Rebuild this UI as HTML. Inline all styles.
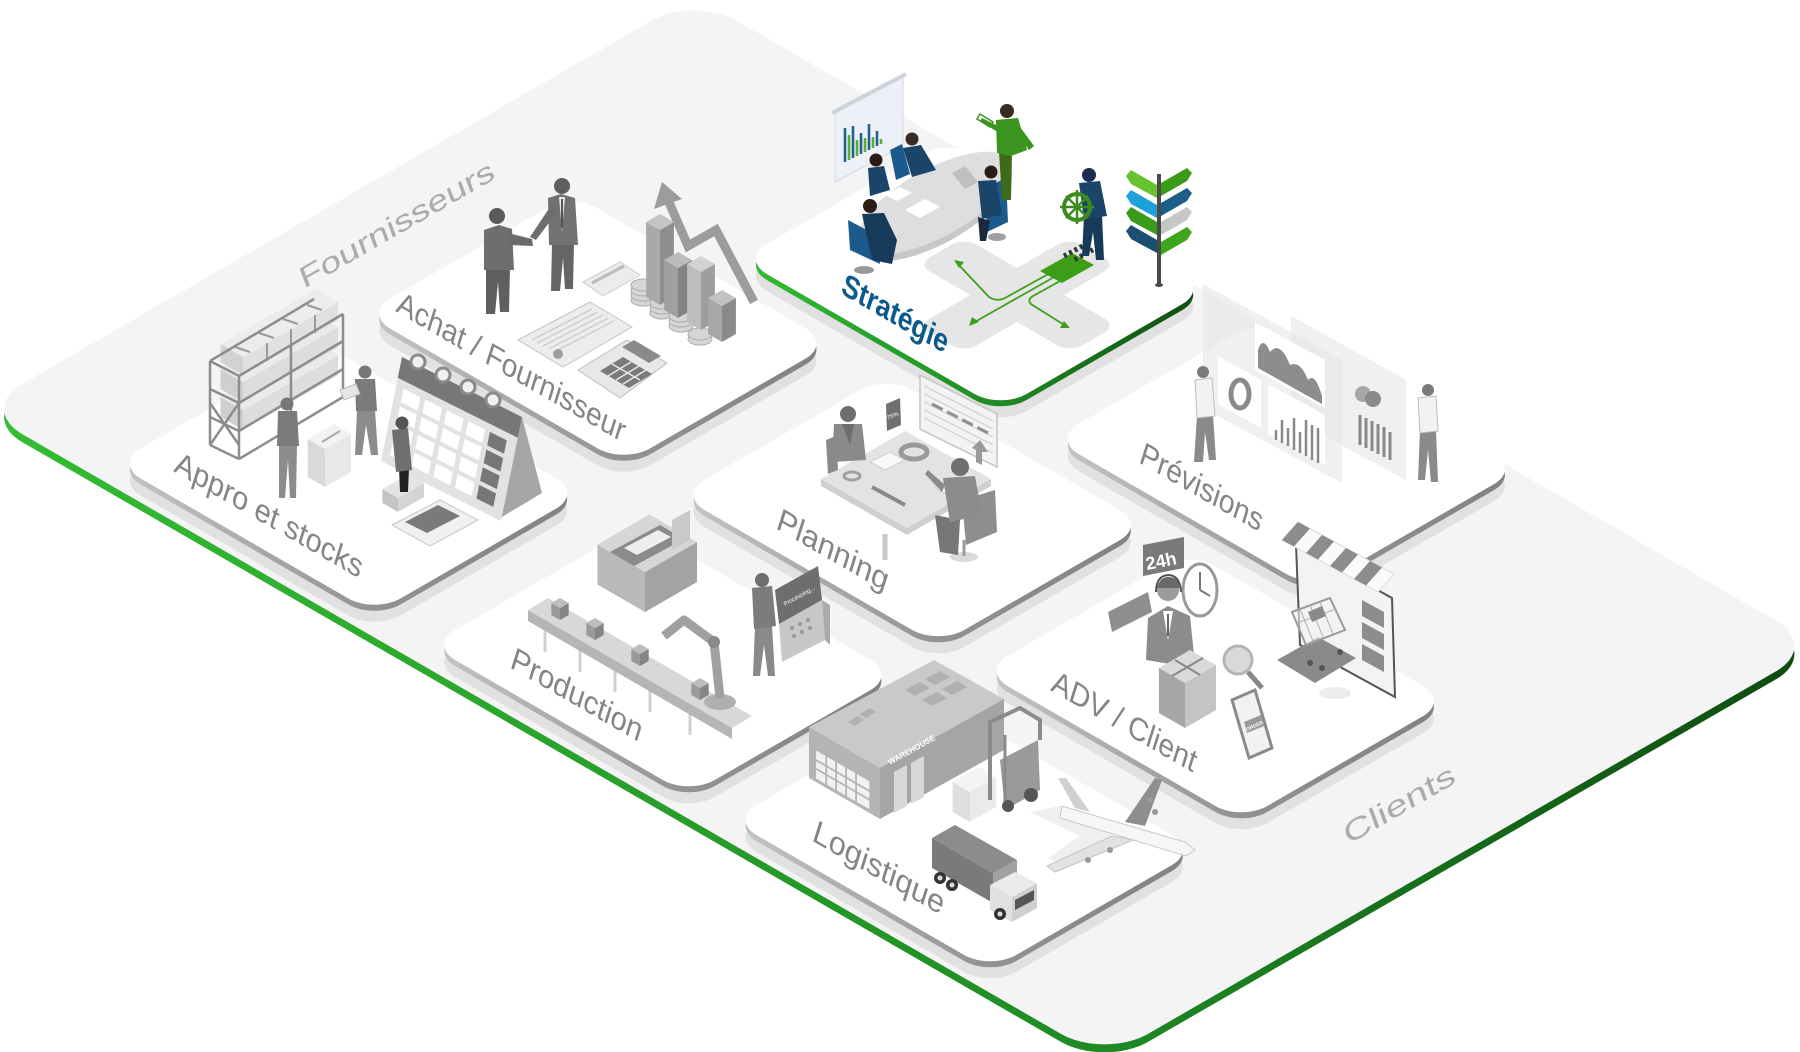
<!DOCTYPE html>
<html lang="fr"><head><meta charset="utf-8"><title>Supply chain</title>
<style>
html,body{margin:0;padding:0;background:#fff;width:1800px;height:1052px;overflow:hidden}
svg{display:block}
text{font-family:"Liberation Sans",sans-serif}
</style></head><body>
<svg width="1800" height="1052" viewBox="0 0 1800 1052" xmlns="http://www.w3.org/2000/svg">
<defs>
<linearGradient id="gP" x1="0" y1="1" x2="1" y2="0">
<stop offset="0" stop-color="#34bd34"/><stop offset="0.5" stop-color="#1f8a24"/><stop offset="1" stop-color="#0e4a10"/>
</linearGradient>
<linearGradient id="gE" x1="0" y1="1" x2="1" y2="0">
<stop offset="0" stop-color="#c6c6c6"/><stop offset="0.5" stop-color="#929292"/><stop offset="1" stop-color="#818181"/>
</linearGradient>
<rect id="T" width="300" height="240" rx="30"/>
</defs>

<!-- big platform -->
<g transform="matrix(0.866,0.5,-0.866,0.5,694,-4)">
<rect x="8" y="8" width="1300" height="826" rx="50" fill="url(#gP)"/>
<rect x="0" y="0" width="1300" height="826" rx="50" fill="#f4f4f4"/>
</g>
<text transform="matrix(0.866,-0.5,0.35,0.937,304,289)" font-size="29" fill="#ababab" textLength="222" lengthAdjust="spacingAndGlyphs">Fournisseurs</text>
<text transform="matrix(0.866,-0.5,0.35,0.937,1348,845)" font-size="29" fill="#ababab" textLength="126" lengthAdjust="spacingAndGlyphs">Clients</text>

<!-- ================= STRATEGIE ================= -->
<g transform="matrix(0.866,0.5,-0.866,0.5,694,-4)">
<use href="#T" x="307" y="13" fill="#e1e1e1"/>
<use href="#T" x="296" y="2" fill="url(#gP)"/>
<use href="#T" x="290" y="-4" fill="#fff"/>
</g>
<g transform="matrix(0.866,0.5,-0.866,0.5,1017,295)" fill="#e6e6e6">
<rect x="-88" y="-27" width="176" height="54" rx="14"/>
<rect x="-27" y="-88" width="54" height="176" rx="14"/>
</g>
<g stroke="#3f9f1c" stroke-width="1.8" fill="none">
<path d="M1052,272 L1005,298 Q997,302 989,297 L957,263"/>
<path d="M1056,276 L973,323"/>
<path d="M1062,280 L1033,296 Q1025,301 1034,306 L1066,326"/>
</g>
<g fill="#3f9f1c">
<polygon points="954,260 964,262 959,268"/>
<polygon points="969,326 972,317 979,322"/>
<polygon points="1070,328 1060,328 1064,321"/>
</g>
<polygon points="1040,271 1072,253 1094,265 1062,283" fill="#3c9d16"/>
<line x1="1064" y1="256" x2="1090" y2="242" stroke="#333" stroke-width="5" stroke-dasharray="3 3"/>
<line x1="1072" y1="261" x2="1098" y2="247" stroke="#333" stroke-width="5" stroke-dasharray="3 3" stroke-dashoffset="3"/>
<polygon points="835,113 903,77 903,146 835,182" fill="#eef0f8" stroke="#d6d9e6"/>
<line x1="832" y1="113" x2="906" y2="74" stroke="#cfd2dc" stroke-width="4"/>
<g stroke-width="2.6">
<line x1="845" y1="162" x2="845" y2="128" stroke="#1f6390"/>
<line x1="849" y1="160" x2="849" y2="135" stroke="#5aae2e"/>
<line x1="853" y1="158" x2="853" y2="126" stroke="#1f6390"/>
<line x1="857" y1="156" x2="857" y2="140" stroke="#5aae2e"/>
<line x1="861" y1="154" x2="861" y2="133" stroke="#1f6390"/>
<line x1="865" y1="152" x2="865" y2="138" stroke="#5aae2e"/>
<line x1="869" y1="150" x2="869" y2="124" stroke="#1f6390"/>
<line x1="873" y1="148" x2="873" y2="137" stroke="#5aae2e"/>
<line x1="877" y1="146" x2="877" y2="131" stroke="#1f6390"/>
<line x1="881" y1="144" x2="881" y2="139" stroke="#5aae2e"/>
</g>
<ellipse cx="935" cy="210" rx="86" ry="34" transform="rotate(-29 935 210)" fill="#c8c8c8"/>
<ellipse cx="935" cy="203" rx="86" ry="34" transform="rotate(-29 935 203)" fill="#dedede"/>
<polygon points="905,210 925,199 940,207 920,218" fill="#fff"/>
<polygon points="885,195 900,187 912,193 897,201" fill="#fff"/>
<polygon points="868,168 884,166 890,190 870,196" fill="#1b4568"/>
<circle cx="876" cy="160" r="6.5" fill="#2b1d16"/>
<polygon points="890,150 902,144 910,174 896,180" fill="#1d5a8c"/>
<polygon points="903,148 921,145 936,170 912,177" fill="#1b4568"/>
<circle cx="912" cy="139" r="6.5" fill="#3b2a20"/>
<polygon points="848,220 878,236 880,264 850,250" fill="#1d5a8c"/>
<polygon points="862,214 884,213 897,240 892,264 872,260" fill="#17395a"/>
<circle cx="870" cy="206" r="7" fill="#2b1d16"/>
<ellipse cx="864" cy="270" rx="10" ry="4" fill="#9a9a9a"/>
<polygon points="952,173 965,166 978,182 965,189" fill="#bfbfbf"/>
<polygon points="985,188 1006,178 1008,222 987,232" fill="#1d5a8c"/>
<polygon points="978,181 996,180 1002,215 982,219" fill="#1b4568"/>
<circle cx="991" cy="172" r="6.5" fill="#2b1d16"/>
<polygon points="978,217 990,221 986,241 980,241" fill="#1a2a3a"/>
<ellipse cx="997" cy="237" rx="9" ry="4" fill="#a0a0a0"/>
<polygon points="999,152 1012,152 1011,200 1002,200" fill="#3d6b1a"/>
<polygon points="996,120 1018,118 1027,150 1011,156 997,153" fill="#3b941f"/>
<polygon points="1018,124 1034,146 1029,150 1016,132" fill="#3b941f"/>
<polygon points="998,126 982,118 980,121 996,131" fill="#3b941f"/>
<polygon points="980,114 993,122 990,127 977,119" fill="none" stroke="#3b941f" stroke-width="1.5"/>
<circle cx="1007" cy="111" r="7" fill="#3b2a20"/>
<polygon points="1084,215 1102,215 1104,260 1096,260 1093,232 1089,256 1082,256" fill="#17395a"/>
<polygon points="1079,183 1100,181 1107,216 1084,219" fill="#1b4568"/>
<circle cx="1089" cy="175" r="7" fill="#1b2d50"/>
<circle cx="1077" cy="207" r="13" fill="none" stroke="#3b8c1c" stroke-width="4"/>
<g stroke="#3b8c1c" stroke-width="2.5"><line x1="1077" y1="190" x2="1077" y2="224"/><line x1="1060" y1="207" x2="1094" y2="207"/><line x1="1066" y1="196" x2="1088" y2="218"/><line x1="1088" y1="196" x2="1066" y2="218"/></g>
<polygon points="1157,185 1157,198 1131,184 1126,176 1131,170" fill="#66c22e"/>
<polygon points="1157,205 1157,218 1131,204 1126,196 1131,190" fill="#1ea0d8"/>
<polygon points="1157,222 1157,235 1131,221 1126,213 1131,207" fill="#3a9a1a"/>
<polygon points="1157,240 1157,253 1131,239 1126,231 1131,225" fill="#1b4f72"/>
<polygon points="1161,183 1161,196 1187,181 1192,173 1187,168" fill="#3a9a1a"/>
<polygon points="1161,203 1161,216 1187,201 1192,193 1187,188" fill="#1d5d86"/>
<polygon points="1161,222 1161,235 1187,220 1192,212 1187,207" fill="#c6c6c6"/>
<polygon points="1161,242 1161,255 1187,240 1192,232 1187,227" fill="#3ea51c"/>
<line x1="1159" y1="174" x2="1159" y2="284" stroke="#4a4a4a" stroke-width="4"/>
<ellipse cx="1159" cy="285" rx="4" ry="2" fill="#4a4a4a"/>
<text transform="matrix(0.866,0.5,-0.3,0.954,840,293)" font-size="31" font-weight="bold" fill="#0c5a8d" textLength="121" lengthAdjust="spacingAndGlyphs">Stratégie</text>

<!-- ================= ACHAT ================= -->
<g transform="matrix(0.866,0.5,-0.866,0.5,694,-4)">
<use href="#T" x="144" y="285" fill="#e1e1e1"/>
<use href="#T" x="133" y="274" fill="url(#gE)"/>
<use href="#T" x="127" y="268" fill="#fff"/>
</g>
<polygon points="518,340 590,302 632,327 563,367" fill="#ededed" stroke="#c4c4c4"/>
<g stroke="#cdcdcd" stroke-width="1.5">
<line x1="532" y1="340" x2="592" y2="309"/><line x1="537.5" y1="343" x2="597.5" y2="312"/>
<line x1="543" y1="346" x2="603" y2="315"/><line x1="548.5" y1="349" x2="608.5" y2="318"/>
<line x1="554" y1="352" x2="614" y2="321"/>
</g>
<circle cx="558" cy="354" r="5" fill="#9e9e9e"/>
<polygon points="583,282 620,262 640,275 603,296" fill="#ececec" stroke="#cfcfcf"/>
<line x1="592" y1="283" x2="624" y2="266" stroke="#bbb" stroke-width="3"/>
<polygon points="578,370 627,340 667,363 620,398" fill="#e8e8e8" stroke="#bdbdbd"/>
<polygon points="622,347 634,340 661,356 649,363" fill="#8a8a8a"/>
<polygon points="600,371 623,357 652,374 629,388" fill="#7a7a7a"/>
<g stroke="#e8e8e8" stroke-width="1.5"><line x1="608" y1="376" x2="631" y2="362"/><line x1="616" y1="380" x2="639" y2="366"/><line x1="623" y1="384" x2="646" y2="370"/><line x1="612" y1="364" x2="640" y2="380"/></g>
<g fill="#d6d6d6" stroke="#adadad" stroke-width="1">
<ellipse cx="643" cy="300" rx="12" ry="6"/><ellipse cx="643" cy="295" rx="12" ry="6"/><ellipse cx="643" cy="290" rx="12" ry="6"/><ellipse cx="643" cy="285" rx="12" ry="6"/>
<ellipse cx="662" cy="313" rx="12" ry="6"/><ellipse cx="662" cy="308" rx="12" ry="6"/><ellipse cx="662" cy="303" rx="12" ry="6"/>
<ellipse cx="681" cy="326" rx="12" ry="6"/><ellipse cx="681" cy="321" rx="12" ry="6"/><ellipse cx="681" cy="316" rx="12" ry="6"/>
<ellipse cx="700" cy="339" rx="12" ry="6"/><ellipse cx="700" cy="334" rx="12" ry="6"/>
</g>
<polyline points="668,200 688,246 716,230 754,302" fill="none" stroke="#9c9c9c" stroke-width="9"/>
<polygon points="662,182 654,209 682,199" fill="#9c9c9c"/>
<polygon points="660,305 646.1,297 646.1,222 660,230" fill="#a9a9a9"/>
<polygon points="660,305 673.9,297 673.9,222 660,230" fill="#8e8e8e"/>
<polygon points="660,230 646.1,222 660,214 673.9,222" fill="#c4c4c4"/>
<polygon points="678,318 664.1,310 664.1,260 678,268" fill="#a0a0a0"/>
<polygon points="678,318 691.9,310 691.9,260 678,268" fill="#848484"/>
<polygon points="678,268 664.1,260 678,252 691.9,260" fill="#bcbcbc"/>
<polygon points="701,330 687.1,322 687.1,264 701,272" fill="#bdbdbd"/>
<polygon points="701,330 714.9,322 714.9,264 701,272" fill="#9d9d9d"/>
<polygon points="701,272 687.1,264 701,256 714.9,264" fill="#d2d2d2"/>
<polygon points="722,342 708.1,334 708.1,298 722,306" fill="#a8a8a8"/>
<polygon points="722,342 735.9,334 735.9,298 722,306" fill="#8a8a8a"/>
<polygon points="722,306 708.1,298 722,290 735.9,298" fill="#c2c2c2"/>
<polygon points="486,268 510,268 509,312 500,312 498,282 495,314 486,314" fill="#5f5f5f"/>
<polygon points="484,230 499,225 512,229 514,270 484,270" fill="#6e6e6e"/>
<polygon points="508,233 532,239 533,246 509,245" fill="#6a6a6a"/>
<circle cx="497" cy="216" r="8" fill="#5a5a5a"/>
<polygon points="552,243 574,243 573,289 565,289 563,258 560,291 551,291" fill="#656565"/>
<polygon points="548,198 561,194 575,198 578,245 549,245" fill="#727272"/>
<polygon points="559,197 565,197 562,232" fill="#e8e8e8"/>
<line x1="562" y1="199" x2="562" y2="228" stroke="#555" stroke-width="2"/>
<polygon points="552,204 530,237 536,240 557,212" fill="#6e6e6e"/>
<circle cx="562" cy="186" r="8" fill="#5e5e5e"/>
<text transform="matrix(0.866,0.5,-0.3,0.954,395,311)" font-size="31" fill="#858585" textLength="262" lengthAdjust="spacingAndGlyphs">Achat / Fournisseur</text>

<!-- ================= PREVISIONS ================= -->
<g transform="matrix(0.866,0.5,-0.866,0.5,694,-4)">
<use href="#T" x="667" y="13" fill="#e1e1e1"/>
<use href="#T" x="656" y="2" fill="url(#gE)"/>
<use href="#T" x="650" y="-4" fill="#fff"/>
</g>
<polygon points="1203,284 1342,360 1342,483 1203,408" fill="#e4e4e4" opacity="0.55"/>
<polygon points="1291,316 1406,380 1406,480 1291,418" fill="#e6e6e6" opacity="0.6"/>
<polygon points="1218,356 1261,380 1261,428 1218,404" fill="#fff"/>
<ellipse cx="1240" cy="394" rx="9" ry="14" fill="none" stroke="#8a8a8a" stroke-width="5"/>
<polygon points="1255,322 1325,360 1325,408 1255,370" fill="#fff"/>
<path d="M1258,350 Q1263,335 1270,352 Q1280,340 1290,365 Q1300,360 1308,380 Q1315,372 1322,396 L1322,404 L1258,368 Z" fill="#8d8d8d"/>
<polygon points="1268,384 1325,415 1325,465 1268,434" fill="#fff"/>
<g stroke="#8a8a8a" stroke-width="2.5">
<line x1="1276" y1="440" x2="1276" y2="430"/><line x1="1282" y1="443" x2="1282" y2="420"/><line x1="1288" y1="446" x2="1288" y2="428"/><line x1="1294" y1="450" x2="1294" y2="418"/><line x1="1300" y1="453" x2="1300" y2="432"/><line x1="1306" y1="456" x2="1306" y2="420"/><line x1="1312" y1="460" x2="1312" y2="425"/><line x1="1318" y1="463" x2="1318" y2="428"/>
</g>
<circle cx="1363" cy="394" r="8" fill="#a6a6a6"/><circle cx="1373" cy="399" r="8" fill="#8a8a8a"/>
<g stroke="#888" stroke-width="3">
<line x1="1360" y1="445" x2="1360" y2="415"/><line x1="1366" y1="448" x2="1366" y2="418"/><line x1="1372" y1="451" x2="1372" y2="421"/><line x1="1378" y1="454" x2="1378" y2="424"/><line x1="1384" y1="457" x2="1384" y2="427"/><line x1="1390" y1="460" x2="1390" y2="432"/>
</g>
<polygon points="1197,415 1213,415 1216,460 1209,460 1205,432 1203,462 1194,462" fill="#8a8a8a"/>
<polygon points="1195,380 1212,378 1215,416 1197,418" fill="#f2f2f2" stroke="#bdbdbd"/>
<circle cx="1203" cy="372" r="6" fill="#7a7a7a"/>
<polygon points="1420,430 1436,430 1438,482 1431,482 1428,450 1425,480 1418,480" fill="#8a8a8a"/>
<polygon points="1418,398 1436,396 1438,431 1420,433" fill="#f2f2f2" stroke="#bdbdbd"/>
<circle cx="1428" cy="390" r="6" fill="#7a7a7a"/>
<text transform="matrix(0.866,0.5,-0.3,0.954,1138,462)" font-size="31" fill="#858585" textLength="140" lengthAdjust="spacingAndGlyphs">Prévisions</text>

<!-- ================= APPRO ================= -->
<g transform="matrix(0.866,0.5,-0.866,0.5,694,-4)">
<use href="#T" x="150" y="579" fill="#e1e1e1"/>
<use href="#T" x="139" y="568" fill="url(#gE)"/>
<use href="#T" x="133" y="562" fill="#fff"/>
</g>
<polygon points="243,430 220.5,417 220.5,397 243,410" fill="#cfcfcf"/>
<polygon points="243,430 338.3,375 338.3,355 243,410" fill="#dddddd"/>
<polygon points="243,410 220.5,397 315.8,342 338.3,355" fill="#eaeaea"/>
<polygon points="243,402 220.5,389 220.5,369 243,382" fill="#cfcfcf"/>
<polygon points="243,402 338.3,347 338.3,327 243,382" fill="#dddddd"/>
<polygon points="243,382 220.5,369 315.8,314 338.3,327" fill="#eaeaea"/>
<polygon points="243,375 220.5,362 220.5,344 243,357" fill="#d2d2d2"/>
<polygon points="243,375 338.3,320 338.3,302 243,357" fill="#e0e0e0"/>
<polygon points="243,357 220.5,344 315.8,289 338.3,302" fill="#ececec"/>
<g stroke="#9a9a9a" stroke-width="2"><line x1="267" y1="361" x2="267" y2="343"/><line x1="291" y1="347" x2="291" y2="329"/><line x1="315" y1="333" x2="315" y2="315"/>
<line x1="235" y1="347" x2="250" y2="352"/><line x1="259" y1="333" x2="274" y2="338"/><line x1="283" y1="319" x2="298" y2="324"/><line x1="307" y1="305" x2="322" y2="310"/></g>
<g stroke="#8d8d8d" stroke-width="2.5" fill="none">
<line x1="210" y1="361" x2="210" y2="445"/><line x1="239" y1="376" x2="239" y2="459"/><line x1="291" y1="345" x2="291" y2="428"/><line x1="343" y1="314" x2="343" y2="397"/>
<line x1="239" y1="459" x2="343" y2="397"/><line x1="239" y1="431" x2="343" y2="369"/><line x1="239" y1="403" x2="343" y2="341"/><line x1="239" y1="376" x2="343" y2="314"/>
<line x1="210" y1="445" x2="239" y2="459"/><line x1="210" y1="417" x2="239" y2="431"/><line x1="210" y1="389" x2="239" y2="403"/><line x1="210" y1="361" x2="239" y2="376"/>
<line x1="210" y1="361" x2="314" y2="299"/><line x1="210" y1="445" x2="239" y2="403"/><line x1="210" y1="403" x2="239" y2="445"/>
</g>
<polygon points="325,487 307.7,477 307.7,439 325,449" fill="#d9d9d9"/>
<polygon points="325,487 351,472 351,434 325,449" fill="#e8e8e8"/>
<polygon points="325,449 307.7,439 333.7,424 351,434" fill="#f2f2f2"/>
<line x1="322" y1="442" x2="340" y2="431" stroke="#aaa" stroke-width="2"/>
<polygon points="279,445 297,445 296,498 290,498 288,460 285,498 279,498" fill="#8c8c8c"/>
<polygon points="278,411 297,411 299,446 277,446" fill="#7b7b7b"/>
<circle cx="287" cy="404" r="6.5" fill="#777"/>
<polygon points="357,410 375,410 378,455 371,455 366,425 362,455 355,455" fill="#8c8c8c"/>
<polygon points="355,379 375,379 377,411 356,411" fill="#7b7b7b"/>
<circle cx="365" cy="372" r="6.5" fill="#777"/>
<polygon points="340,390 356,384 360,394 344,400" fill="#e6e6e6" stroke="#bbb"/>
<polygon points="522,417 542,493 497,520" fill="#a6a6a6"/>
<g transform="matrix(120,60,-21,104,402,357)">
<rect width="1" height="1" fill="#e2e2e2"/>
<rect width="1" height="0.2" fill="#777"/>
<g fill="#fff">
<rect x="0.06" y="0.27" width="0.14" height="0.13"/><rect x="0.24" y="0.27" width="0.14" height="0.13"/><rect x="0.42" y="0.27" width="0.14" height="0.13"/><rect x="0.60" y="0.27" width="0.14" height="0.13"/>
<rect x="0.06" y="0.44" width="0.14" height="0.13"/><rect x="0.24" y="0.44" width="0.14" height="0.13"/><rect x="0.42" y="0.44" width="0.14" height="0.13"/><rect x="0.60" y="0.44" width="0.14" height="0.13"/>
<rect x="0.06" y="0.61" width="0.14" height="0.13"/><rect x="0.24" y="0.61" width="0.14" height="0.13"/><rect x="0.42" y="0.61" width="0.14" height="0.13"/><rect x="0.60" y="0.61" width="0.14" height="0.13"/>
<rect x="0.06" y="0.78" width="0.14" height="0.13"/><rect x="0.24" y="0.78" width="0.14" height="0.13"/><rect x="0.42" y="0.78" width="0.14" height="0.13"/><rect x="0.60" y="0.78" width="0.14" height="0.13"/>
</g>
<g fill="#777">
<rect x="0.78" y="0.27" width="0.14" height="0.13"/><rect x="0.78" y="0.44" width="0.14" height="0.13"/><rect x="0.78" y="0.61" width="0.14" height="0.13"/><rect x="0.78" y="0.78" width="0.14" height="0.13"/>
</g>
</g>
<g fill="#f0f0f0" stroke="#8a8a8a" stroke-width="3">
<circle cx="418" cy="362" r="7"/><circle cx="443" cy="375" r="7"/><circle cx="468" cy="387" r="7"/><circle cx="493" cy="400" r="7"/>
</g>
<polygon points="398,512 382.4,503 382.4,489 398,498" fill="#c4c4c4"/>
<polygon points="398,512 424,497 424,483 398,498" fill="#d4d4d4"/>
<polygon points="398,498 382.4,489 408.4,474 424,483" fill="#e4e4e4"/>
<polygon points="399,468 409,468 408,492 400,492" fill="#222"/>
<polygon points="392,430 408,428 412,470 396,472" fill="#6f6f6f"/>
<circle cx="402" cy="423" r="6.5" fill="#555"/>
<polygon points="392,525 440,500 478,520 430,546" fill="#f0f0f0" stroke="#c8c8c8"/>
<polygon points="405,522 438,505 460,516 427,533" fill="#7a7a7a"/>
<text transform="matrix(0.866,0.5,-0.3,0.954,173,471)" font-size="31" fill="#858585" textLength="215" lengthAdjust="spacingAndGlyphs">Appro et stocks</text>

<!-- ================= PLANNING ================= -->
<g transform="matrix(0.866,0.5,-0.866,0.5,694,-4)">
<use href="#T" x="507" y="285" fill="#e1e1e1"/>
<use href="#T" x="496" y="274" fill="url(#gE)"/>
<use href="#T" x="490" y="268" fill="#fff"/>
</g>
<polygon points="920,375 997,414 997,467 920,429" fill="#f3f3f3" stroke="#c4c4c4" stroke-width="1.5"/>
<g stroke="#d6d6d6" stroke-width="1.5">
<line x1="924" y1="386" x2="993" y2="421"/><line x1="924" y1="394" x2="993" y2="429"/><line x1="924" y1="402" x2="993" y2="437"/><line x1="924" y1="410" x2="993" y2="445"/><line x1="924" y1="418" x2="993" y2="453"/>
</g>
<line x1="932" y1="404" x2="988" y2="433" stroke="#8f8f8f" stroke-width="3" stroke-dasharray="12 5"/>
<polygon points="972,448 980,440 988,452 982,452 982,465 976,462 976,450" fill="#9a9a9a"/>
<polygon points="821,479 907,528 991,479 991,486 907,535 821,486" fill="#cfcfcf"/>
<polygon points="821,479 905,431 991,479 907,528" fill="#e3e3e3"/>
<line x1="885" y1="534" x2="885" y2="560" stroke="#c9c9c9" stroke-width="5"/>
<ellipse cx="914" cy="452" rx="13" ry="7" fill="none" stroke="#9a9a9a" stroke-width="5"/>
<ellipse cx="852" cy="476" rx="8" ry="4" fill="none" stroke="#a0a0a0" stroke-width="3"/>
<polygon points="870,462 890,452 905,460 885,470" fill="#f8f8f8" stroke="#ccc"/>
<line x1="872" y1="487" x2="905" y2="505" stroke="#8a8a8a" stroke-width="4"/>
<polygon points="935,488 955,478 968,485 948,495" fill="#f8f8f8" stroke="#ccc"/>
<polygon points="826,440 836,436 838,470 828,474" fill="#8a8a8a"/>
<polygon points="834,424 862,424 866,460 832,462" fill="#8a8a8a"/>
<polygon points="842,424 854,424 850,445" fill="#6e6e6e"/>
<circle cx="848" cy="414" r="8" fill="#6e6e6e"/>
<polygon points="886,404 900,398 901,425 887,431" fill="#6f6f6f"/>
<text transform="translate(888,420) rotate(-24)" font-size="6" fill="#fff">75%</text>
<polygon points="962,500 995,490 997,532 966,545" fill="#8e8e8e"/>
<ellipse cx="964" cy="557" rx="14" ry="5" fill="#d9d9d9"/>
<line x1="964" y1="540" x2="964" y2="556" stroke="#9a9a9a" stroke-width="3"/>
<polygon points="935,515 960,520 958,555 940,552" fill="#777"/>
<polygon points="943,478 975,476 982,515 950,522" fill="#8c8c8c"/>
<polygon points="945,485 928,470 925,474 942,492" fill="#8c8c8c"/>
<circle cx="960" cy="467" r="9" fill="#707070"/>
<text transform="matrix(0.866,0.5,-0.3,0.954,775,528)" font-size="31" fill="#858585" textLength="127" lengthAdjust="spacingAndGlyphs">Planning</text>

<!-- ================= PRODUCTION ================= -->
<g transform="matrix(0.866,0.5,-0.866,0.5,694,-4)">
<use href="#T" x="513" y="579" fill="#e1e1e1"/>
<use href="#T" x="502" y="568" fill="url(#gE)"/>
<use href="#T" x="496" y="562" fill="#fff"/>
</g>
<polygon points="645,612 597.4,584.5 597.4,544.5 645,572" fill="#b9b9b9"/>
<polygon points="645,612 697,582 697,542 645,572" fill="#a3a3a3"/>
<polygon points="645,572 597.4,544.5 649.4,514.5 697,542" fill="#d6d6d6"/>
<polygon points="610,552 660,525 684,539 634,566" fill="#8b8b8b"/>
<polygon points="624,548 658,530 671,537 637,555" fill="#eeeeee"/>
<polygon points="672,520 690,510 690,540 672,550" fill="#c9c9c9"/>
<g stroke="#d0d0d0" stroke-width="3">
<line x1="545" y1="622" x2="545" y2="652"/><line x1="580" y1="642" x2="580" y2="672"/><line x1="615" y1="662" x2="615" y2="692"/><line x1="650" y1="682" x2="650" y2="712"/><line x1="690" y1="705" x2="690" y2="735"/>
</g>
<polygon points="528,610 732,728 732,739 528,621" fill="#b5b5b5"/>
<polygon points="528,610 548,598 752,716 732,728" fill="#d8d8d8"/>
<polygon points="560,620 551.3,615 551.3,603 560,608" fill="#9a9a9a"/><polygon points="560,620 568.7,615 568.7,603 560,608" fill="#858585"/><polygon points="560,608 551.3,603 560,598 568.7,603" fill="#bdbdbd"/>
<polygon points="595,640 586.3,635 586.3,623 595,628" fill="#9a9a9a"/><polygon points="595,640 603.7,635 603.7,623 595,628" fill="#858585"/><polygon points="595,628 586.3,623 595,618 603.7,623" fill="#bdbdbd"/>
<polygon points="640,666 631.3,661 631.3,649 640,654" fill="#9a9a9a"/><polygon points="640,666 648.7,661 648.7,649 640,654" fill="#858585"/><polygon points="640,654 631.3,649 640,644 648.7,649" fill="#bdbdbd"/>
<polygon points="700,700 691.3,695 691.3,683 700,688" fill="#9a9a9a"/><polygon points="700,700 708.7,695 708.7,683 700,688" fill="#858585"/><polygon points="700,688 691.3,683 700,678 708.7,683" fill="#bdbdbd"/>
<ellipse cx="720" cy="702" rx="16" ry="8" fill="#b0b0b0"/>
<polyline points="720,698 714,642 684,620 664,636" fill="none" stroke="#a0a0a0" stroke-width="9" stroke-linejoin="round"/>
<circle cx="714" cy="642" r="6" fill="#8a8a8a"/>
<polygon points="755,626 772,626 775,676 768,676 764,645 760,676 753,676" fill="#8a8a8a"/>
<polygon points="752,588 772,586 776,626 754,629" fill="#7c7c7c"/>
<circle cx="762" cy="580" r="7" fill="#6f6f6f"/>
<polygon points="779,624 822,600 825,640 782,662" fill="#c8c8c8"/>
<polygon points="822,600 830,605 830,645 825,640" fill="#aaaaaa"/>
<polygon points="775,590 818,566 822,600 779,624" fill="#6e6e6e"/>
<text transform="translate(785,606) rotate(-29)" font-size="6" fill="#fff">Processing...</text>
<g fill="#999"><circle cx="792" cy="628" r="2"/><circle cx="800" cy="624" r="2"/><circle cx="808" cy="620" r="2"/><circle cx="794" cy="636" r="2"/><circle cx="802" cy="632" r="2"/><circle cx="810" cy="628" r="2"/></g>
<text transform="matrix(0.866,0.5,-0.3,0.954,509,667)" font-size="31" fill="#858585" textLength="150" lengthAdjust="spacingAndGlyphs">Production</text>

<!-- ================= ADV ================= -->
<g transform="matrix(0.866,0.5,-0.866,0.5,694,-4)">
<use href="#T" x="858" y="286" fill="#e1e1e1"/>
<use href="#T" x="847" y="275" fill="url(#gE)"/>
<use href="#T" x="841" y="269" fill="#fff"/>
</g>
<polygon points="1296,545 1392,598 1395,697 1300,645" fill="#f3f3f3" stroke="#555" stroke-width="2"/>
<g fill="#8d8d8d">
<polygon points="1362,600 1384,612 1384,628 1362,616"/><polygon points="1362,622 1384,634 1384,650 1362,638"/><polygon points="1362,644 1384,656 1384,672 1362,660"/>
</g>
<polygon points="1282,540 1378,592 1394,574 1298,522" fill="#fafafa" stroke="#ddd"/>
<g fill="#8c8c8c">
<polygon points="1282,540 1294,546.5 1310,528.5 1298,522"/>
<polygon points="1306,553 1318,559.5 1334,541.5 1322,535"/>
<polygon points="1330,566 1342,572.5 1358,554.5 1346,548"/>
<polygon points="1354,579 1366,585.5 1382,567.5 1370,561"/>
</g>
<polygon points="1277,660 1318,637 1356,658 1315,683" fill="#8a8a8a"/>
<ellipse cx="1335" cy="693" rx="16" ry="6" fill="#ececec"/>
<polygon points="1292,612 1330,598 1345,630 1306,645" fill="#f4f4f4" fill-opacity="0.6" stroke="#9a9a9a" stroke-width="2"/>
<g stroke="#b0b0b0" stroke-width="1"><line x1="1300" y1="609" x2="1313" y2="641"/><line x1="1310" y1="605" x2="1323" y2="637"/><line x1="1320" y1="602" x2="1333" y2="634"/><line x1="1297" y1="623" x2="1336" y2="609"/></g>
<polygon points="1308,612 1322,606 1326,616 1312,622" fill="#8a8a8a"/>
<g fill="#555"><circle cx="1310" cy="663" r="3"/><circle cx="1340" cy="652" r="3"/><circle cx="1322" cy="668" r="3"/></g>
<polygon points="1143,545 1184,537 1184,568 1143,576" fill="#7a7a7a"/>
<text transform="translate(1147,570) rotate(-11)" font-size="18" font-weight="bold" fill="#fff">24h</text>
<ellipse cx="1200" cy="590" rx="17" ry="26" fill="#fff" stroke="#999" stroke-width="3"/>
<line x1="1200" y1="590" x2="1200" y2="572" stroke="#777" stroke-width="2"/><line x1="1200" y1="590" x2="1210" y2="596" stroke="#777" stroke-width="2"/>
<polygon points="1108,612 1148,592 1152,612 1112,632" fill="#8f8f8f"/>
<polygon points="1146,660 1148,618 1168,606 1190,616 1194,655 1170,664" fill="#8c8c8c"/>
<polygon points="1163,611 1173,611 1168,640" fill="#fff"/>
<line x1="1168" y1="614" x2="1168" y2="636" stroke="#666" stroke-width="2"/>
<circle cx="1168" cy="590" r="11" fill="#9a9a9a"/>
<path d="M1157,588 Q1160,576 1170,577 Q1180,578 1180,588" fill="#6a6a6a"/>
<path d="M1156,592 Q1156,576 1168,575 Q1180,575 1181,592" fill="none" stroke="#555" stroke-width="2"/>
<polygon points="1185,728 1159,713 1159,668 1185,683" fill="#a6a6a6"/>
<polygon points="1185,728 1216,710 1216,665 1185,683" fill="#c4c4c4"/>
<polygon points="1185,683 1159,668 1190,650 1216,665" fill="#dadada"/>
<line x1="1172" y1="676" x2="1203" y2="658" stroke="#888" stroke-width="2"/>
<line x1="1175" y1="660" x2="1200" y2="675" stroke="#888" stroke-width="2"/>
<circle cx="1238" cy="660" r="14" fill="#d9d9d9" stroke="#b5b5b5" stroke-width="3"/>
<line x1="1248" y1="672" x2="1262" y2="688" stroke="#888" stroke-width="5"/>
<polygon points="1232,700 1255,690 1272,748 1249,758" fill="#f2f2f2" stroke="#8a8a8a" stroke-width="3"/>
<polygon points="1244,722 1261,715 1264,726 1247,733" fill="#9a9a9a"/>
<text transform="translate(1247,731) rotate(-24)" font-size="5" font-weight="bold" fill="#fff">ORDER</text>
<text transform="matrix(0.866,0.5,-0.3,0.954,1050,690)" font-size="31" fill="#858585" textLength="165" lengthAdjust="spacingAndGlyphs">ADV / Client</text>

<!-- ================= LOGISTIQUE ================= -->
<g transform="matrix(0.866,0.5,-0.866,0.5,694,-4)">
<use href="#T" x="862" y="580" fill="#e1e1e1"/>
<use href="#T" x="851" y="569" fill="url(#gE)"/>
<use href="#T" x="845" y="563" fill="#fff"/>
</g>
<polygon points="809,727 934,660 1004,699 880,768" fill="#c9c9c9"/>
<polygon points="809,727 880,768 880,819 809,778" fill="#b4b4b4"/>
<polygon points="880,768 1004,699 1004,750 880,819" fill="#a5a5a5"/>
<g fill="#b0b0b0">
<polygon points="905,690 920,682 930,688 915,696"/><polygon points="925,679 940,671 950,677 935,685"/><polygon points="922,700 937,692 947,698 932,706"/><polygon points="942,689 957,681 967,687 952,695"/>
<polygon points="848,722 858,716 864,720 854,726"/><polygon points="860,714 870,708 876,712 866,718"/>
</g>
<g transform="matrix(71,41,0,51,809,727)">
<rect x="0.1" y="0.38" width="0.75" height="0.55" fill="#f2f2f2"/>
<g fill="#b4b4b4">
<rect x="0.23" y="0.38" width="0.025" height="0.55"/><rect x="0.37" y="0.38" width="0.025" height="0.55"/><rect x="0.51" y="0.38" width="0.025" height="0.55"/><rect x="0.65" y="0.38" width="0.025" height="0.55"/>
<rect x="0.1" y="0.55" width="0.75" height="0.04"/><rect x="0.1" y="0.72" width="0.75" height="0.04"/>
</g>
</g>
<polygon points="894,772 907,765 907,806 894,813" fill="#d8d8d8"/>
<polygon points="911,763 924,756 924,797 911,804" fill="#d8d8d8"/>
<text transform="translate(890,765) rotate(-29)" font-size="8" font-weight="bold" fill="#fff">WAREHOUSE</text>
<polygon points="970,822 952.7,812 952.7,782 970,792" fill="#dedede"/>
<polygon points="970,822 996,807 996,777 970,792" fill="#eaeaea"/>
<polygon points="970,792 952.7,782 978.7,767 996,777" fill="#f4f4f4"/>
<polygon points="1000,760 1038,740 1040,790 1005,810" fill="#9a9a9a"/>
<polyline points="990,800 990,722 1020,708 1040,720 1040,740" fill="none" stroke="#8a8a8a" stroke-width="4"/>
<line x1="1005" y1="810" x2="1005" y2="735" stroke="#8a8a8a" stroke-width="3"/>
<circle cx="1031" cy="795" r="7" fill="#555"/><circle cx="1008" cy="806" r="6" fill="#555"/>
<!-- plane -->
<polygon points="1030,812 1060,806 1120,840 1065,866 1048,858 1080,836" fill="#efefef"/>
<polygon points="1058,778 1075,808 1090,812 1066,778" fill="#d0d0d0"/>
<polygon points="1125,822 1155,778 1162,780 1145,826" fill="#8e8e8e"/>
<polygon points="1062,806 1185,842 1195,850 1186,856 1060,818" fill="#f6f6f6" stroke="#c8c8c8"/>
<polygon points="1133,840 1112,836 1047,866 1055,872" fill="#e2e2e2" stroke="#c4c4c4"/>
<g fill="#999"><circle cx="1088" cy="860" r="3"/><circle cx="1110" cy="850" r="3"/><circle cx="1150" cy="800" r="3"/><circle cx="1155" cy="812" r="3"/></g>
<!-- truck -->
<polygon points="932,868 993,903 993,873 932,838" fill="#7a7a7a"/>
<polygon points="993,873 1017,860 1017,890 993,903" fill="#a0a0a0"/>
<polygon points="932,838 955,825 1017,860 993,873" fill="#8c8c8c"/>
<polygon points="990,885 1012,897 1012,922 990,910" fill="#e0e0e0"/>
<polygon points="1012,897 1037,883 1037,908 1012,922" fill="#cfcfcf"/>
<polygon points="990,885 1015,872 1037,883 1012,897" fill="#ebebeb"/>
<polygon points="1015,900 1034,890 1034,900 1015,910" fill="#555"/>
<g fill="#333"><circle cx="940" cy="878" r="6"/><circle cx="952" cy="885" r="6"/><circle cx="1000" cy="914" r="6"/></g>
<g fill="#ddd"><circle cx="940" cy="878" r="2.5"/><circle cx="952" cy="885" r="2.5"/><circle cx="1000" cy="914" r="2.5"/></g>
<text transform="matrix(0.866,0.5,-0.3,0.954,811,840)" font-size="31" fill="#858585" textLength="150" lengthAdjust="spacingAndGlyphs">Logistique</text>
</svg>
</body></html>
